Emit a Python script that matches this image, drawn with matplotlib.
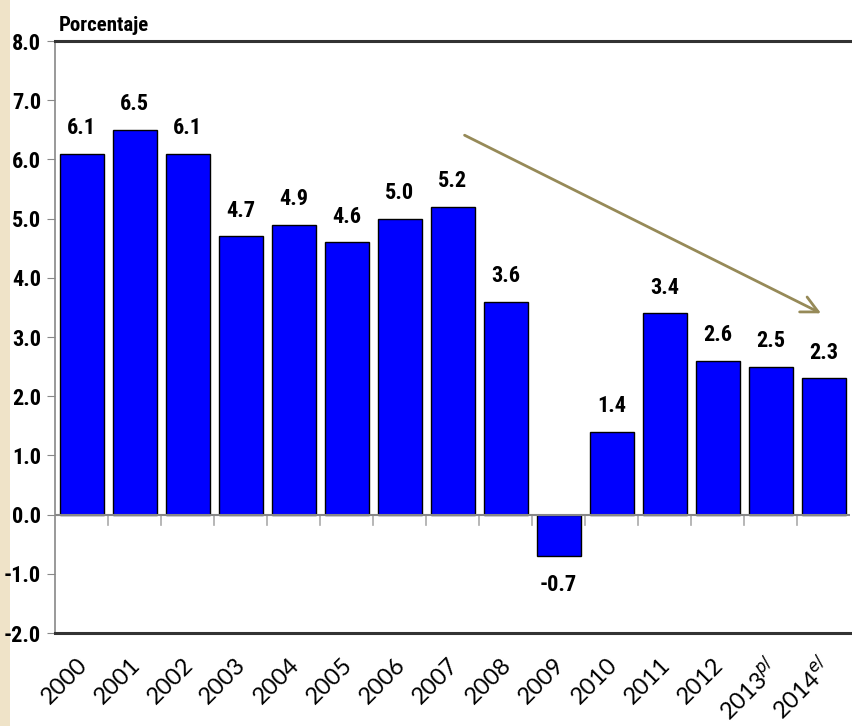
import numpy as np
import matplotlib.pyplot as plt
from matplotlib.patches import Rectangle
from matplotlib import font_manager as fm

years = ['2000', '2001', '2002', '2003', '2004', '2005', '2006', '2007',
         '2008', '2009', '2010', '2011', '2012', '2013', '2014']
suffix = ['', '', '', '', '', '', '', '', '', '', '', '', '', 'p/', 'e/']
growth = [6.1, 6.5, 6.1, 4.7, 4.9, 4.6, 5.0, 5.2, 3.6, -0.7, 1.4, 3.4, 2.6, 2.5, 2.3]

# buscar una fuente estrecha si existe, si no Lato
narrow = None
for fam, st in [('Liberation Sans Narrow', 'normal'), ('Roboto Condensed', 'normal'),
                ('DejaVu Sans', 'condensed')]:
    try:
        p = fm.findfont(fm.FontProperties(family=fam, stretch=st, weight='bold'),
                        fallback_to_default=False)
    except Exception:
        continue
    if 'Narrow' in p or 'Condensed' in p:
        narrow = p
        break


def lab_fp(size):
    if narrow is not None:
        return fm.FontProperties(fname=narrow, size=size)
    return fm.FontProperties(family=['Lato', 'DejaVu Sans'], weight='bold', size=size)


fig = plt.figure(figsize=(8.52, 7.26), dpi=100)
fig.patch.set_facecolor('white')
# franja beige a la izquierda
fig.add_artist(Rectangle((0, 0), 0.012, 1, transform=fig.transFigure,
                         facecolor='#EFE3C8', edgecolor='none', zorder=0))

ax = fig.add_axes([0.0646, 0.128, 0.9331, 0.8155])
x = np.arange(len(years))
ax.bar(x, growth, width=0.83, color='#0000FF', edgecolor='black', linewidth=1.0, zorder=3)

ax.set_xlim(-0.5, len(years) - 0.5)
ax.set_ylim(-2, 8)
yt = np.arange(-2, 8.1, 1)
ax.set_yticks(yt)
ax.set_yticklabels(['%.1f' % v for v in yt])
for t in ax.get_yticklabels():
    t.set_fontproperties(lab_fp(16))
ax.tick_params(axis='y', length=6, color='#888888', pad=4)

# etiquetas de valores
for xi, v in zip(x, growth):
    if v >= 0:
        ax.text(xi, v + 0.25, '%.1f' % v, ha='center', va='bottom', fontproperties=lab_fp(16))
    else:
        ax.text(xi, v - 0.3, '%.1f' % v, ha='center', va='top', fontproperties=lab_fp(16))

# eje en cero con marcas entre categorías
ax.axhline(0, color='#888888', linewidth=1.5, zorder=4)
for b in np.arange(0.5, len(years) - 1, 1):
    ax.plot([b, b], [0, -0.17], color='#aaaaaa', linewidth=1.2, zorder=2, clip_on=False)

ax.set_xticks([])
for xi, y, s in zip(x, years, suffix):
    lbl = y if s == '' else y + '$^{\\mathit{' + s + '}}$'
    ax.text(xi - 0.1, -2.35, lbl, rotation=45, ha='right', va='top',
            fontsize=17, family='Lato', rotation_mode='anchor')

ax.spines['right'].set_visible(False)
ax.spines['top'].set_linewidth(2.2)
ax.spines['top'].set_color('#333333')
ax.spines['bottom'].set_linewidth(2.2)
ax.spines['bottom'].set_color('#333333')
ax.spines['left'].set_color('#888888')
ax.spines['left'].set_linewidth(1.2)

ax.text(0.005, 1.01, 'Porcentaje', transform=ax.transAxes, ha='left', va='bottom',
        fontproperties=lab_fp(15))

# flecha de tendencia
ax.annotate('', xy=(14.0, 3.38), xytext=(7.18, 6.43),
            arrowprops=dict(arrowstyle='->', color='#968A58', lw=2,
                            mutation_scale=30))

fig.savefig('out.png', dpi=100)
